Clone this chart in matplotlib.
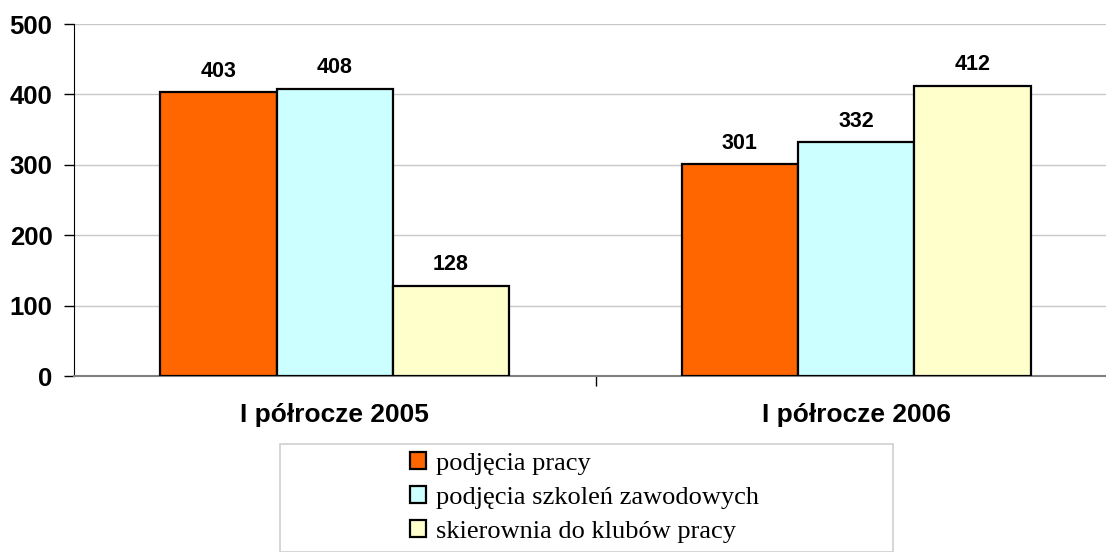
import numpy as np
import matplotlib.pyplot as plt
from matplotlib.patches import Rectangle

categories = ['I półrocze 2005', 'I półrocze 2006']
series = ['podjęcia pracy', 'podjęcia szkoleń zawodowych', 'skierownia do klubów pracy']
values = [[403, 301], [408, 332], [128, 412]]
colors = ['#FF6600', '#CCFFFF', '#FFFFCC']

W, H = 1106, 552
fig = plt.figure(figsize=(W / 100, H / 100), dpi=100)
ax = fig.add_axes([74 / W, 1 - 376 / H, 1043 / W, 352 / H])

x = np.arange(len(categories))
bw = 0.223
for i, (name, vals, c) in enumerate(zip(series, values, colors)):
    pos = x + (i - 1) * bw
    ax.bar(pos, vals, bw, color=c, edgecolor='black', linewidth=1.6, label=name, zorder=3)
    for p, v in zip(pos, vals):
        ax.text(p, v + 15, str(v), ha='center', va='bottom', fontsize=15.5,
                fontweight='bold', family='Liberation Sans')

ax.set_xlim(-0.5, 1.5)
ax.set_ylim(0, 500)
ax.set_yticks(range(0, 501, 100))
ax.yaxis.grid(True, color='#c8c8c8', linewidth=1, zorder=0)
ax.set_xticks([0.5])
ax.set_xticklabels([''])
ax.tick_params(axis='x', length=7, width=1, color='black', direction='out')
ax.tick_params(axis='y', length=7, width=1, direction='out', pad=8.5)
for lab in ax.get_yticklabels():
    lab.set_fontsize(18.5)
    lab.set_fontweight('bold')
    lab.set_family('Liberation Sans')
for i, cat in enumerate(categories):
    ax.text(x[i], -55, cat, ha='center', va='center', fontsize=19, fontweight='bold',
            family='Liberation Sans', clip_on=False)

for s in ['top', 'right']:
    ax.spines[s].set_visible(False)
ax.spines['left'].set_color('black')
ax.spines['bottom'].set_color('#808080')
ax.spines['bottom'].set_linewidth(1.5)

fig.patches.append(Rectangle((280 / W, 0), 613 / W, 1 - 444 / H, transform=fig.transFigure,
                             facecolor='white', edgecolor='#d0d0d0', linewidth=1.2))
handles, labels = ax.get_legend_handles_labels()
leg = fig.legend(handles, labels, loc='upper left', bbox_to_anchor=(410 / W, 1 - 452 / H),
                 frameon=False, prop={'family': 'Liberation Serif', 'size': 19},
                 handlelength=0.6, handleheight=0.6, handletextpad=0.4, labelspacing=0.43,
                 borderpad=0, borderaxespad=0)

fig.savefig('out.png', dpi=100)
